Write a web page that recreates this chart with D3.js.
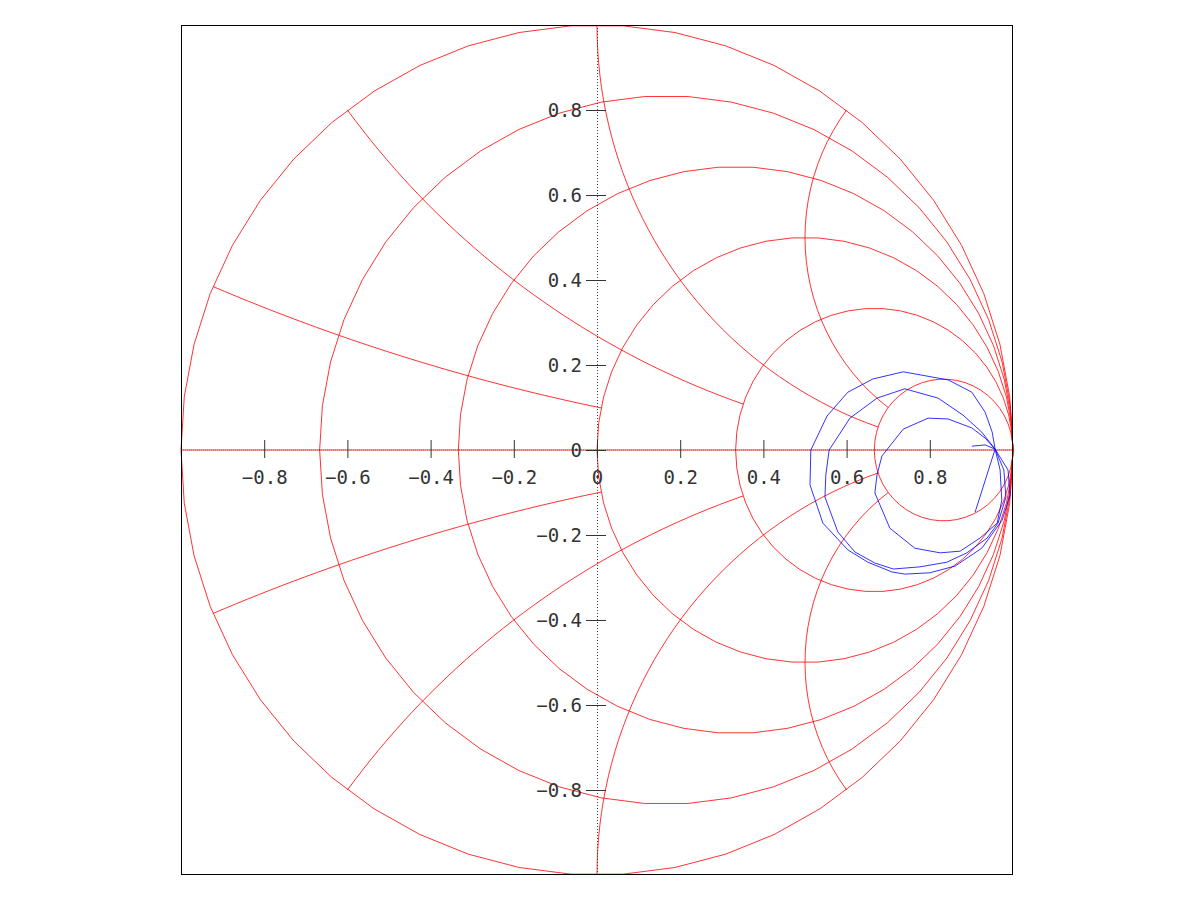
<!DOCTYPE html>
<html>
<head>
<meta charset="utf-8">
<script src="https://cdn.jsdelivr.net/npm/d3@7"></script>
<style>
  html, body { margin: 0; padding: 0; background: #fff; }
  svg { display: block; }
  .tick text { font-family: "DejaVu Sans Mono", monospace; font-size: 19px; fill: #333; }
</style>
</head>
<body>
<svg id="chart" width="1200" height="900"></svg>
<script>
// ---- grid definitions ----
const rCircles = [0, 0.2, 0.5, 1, 2, 5];
const xArcs = [0.2, 0.5, 1, 2];
const xArcStops = [1, 2, 5, 5];

// ---- axis ticks ----
const tickValues = [-0.8, -0.6, -0.4, -0.2, 0, 0.2, 0.4, 0.6, 0.8];
const tickLabels = ["\u22120.8", "\u22120.6", "\u22120.4", "\u22120.2", "0", "0.2", "0.4", "0.6", "0.8"];

// ---- reflection coefficient trace (real / imaginary) ----
const gammaRe = [
  0.901, 0.933, 0.957,
  0.988, 0.993, 0.974, 0.925, 0.861, 0.800, 0.740, 0.709, 0.651, 0.603, 0.543, 0.512, 0.514,
  0.553, 0.603, 0.663, 0.736, 0.844, 0.901, 0.933, 0.950, 0.957,
  0.978, 0.983, 0.964, 0.938, 0.889, 0.841, 0.776, 0.712, 0.668, 0.620, 0.579, 0.548, 0.550,
  0.558, 0.608, 0.673, 0.740, 0.820, 0.880, 0.925, 0.957,
  0.969, 0.973, 0.962, 0.921, 0.873, 0.825, 0.764, 0.704, 0.668, 0.673, 0.685, 0.736, 0.796,
  0.844, 0.901, 0.933, 0.957,
  0.909
];
const gammaIm = [
  0.009, 0.012, 0.002,
  -0.047, -0.106, -0.165, -0.231, -0.273, -0.289, -0.292, -0.287, -0.264, -0.235, -0.172, -0.082, 0.000,
  0.080, 0.136, 0.167, 0.184, 0.165, 0.136, 0.089, 0.042, 0.002,
  -0.047, -0.111, -0.172, -0.207, -0.242, -0.264, -0.275, -0.280, -0.266, -0.240, -0.193, -0.111, -0.059,
  0.000, 0.075, 0.122, 0.144, 0.122, 0.082, 0.042, 0.002,
  -0.047, -0.118, -0.172, -0.207, -0.238, -0.242, -0.231, -0.184, -0.101, -0.059, -0.014, 0.049, 0.075,
  0.073, 0.052, 0.028, 0.002,
  -0.146
];

const svg = d3.select("#chart");
const x = d3.scaleLinear().domain([-1, 1]).range([181, 1013]);
const y = d3.scaleLinear().domain([-1, 1]).range([875, 25]);

const line = d3.line().x(d => x(d[0])).y(d => y(d[1]));
const SEG = 50;

const grid = svg.append("g").attr("fill", "none")
  .attr("stroke", "#ff0000").attr("stroke-width", 1).attr("stroke-opacity", 0.8);

// constant-resistance circles
rCircles.forEach(r => {
  const c = r / (1 + r), R = 1 / (1 + r);
  const pts = d3.range(SEG + 1).map(k => {
    const a = 2 * Math.PI * k / SEG;
    return [c + R * Math.cos(a), R * Math.sin(a)];
  });
  grid.append("path").attr("d", line(pts));
});

// constant-reactance arcs (upper and lower), from the outer circle to a resistance circle
function gamma(re, im) {
  const nr = re - 1, ni = im, dr = re + 1, di = im;
  const den = dr * dr + di * di;
  return [(nr * dr + ni * di) / den, (ni * dr - nr * di) / den];
}
xArcs.forEach((xv, i) => {
  [1, -1].forEach(sgn => {
    const xx = xv * sgn;
    const cx = 1, cy = 1 / xx, R = Math.abs(1 / xx);
    const p0 = gamma(0, xx), p1 = gamma(xArcStops[i], xx);
    const a0 = Math.atan2(p0[1] - cy, p0[0] - cx);
    const a1 = Math.atan2(p1[1] - cy, p1[0] - cx);
    let da = a1 - a0;
    while (da > Math.PI) da -= 2 * Math.PI;
    while (da < -Math.PI) da += 2 * Math.PI;
    const n = Math.max(12, Math.ceil(Math.abs(da) * R / 0.03));
    const pts = d3.range(n + 1).map(k => {
      const a = a0 + da * k / n;
      return [cx + R * Math.cos(a), cy + R * Math.sin(a)];
    });
    grid.append("path").attr("d", line(pts));
  });
});

// real axis (x = 0)
grid.append("path").attr("d", line([[-1, 0], [1, 0]]));

// dotted axis lines
svg.append("line")
  .attr("x1", x(-1)).attr("x2", x(1)).attr("y1", y(0)).attr("y2", y(0))
  .attr("stroke", "#000").attr("stroke-opacity", 0.35).attr("stroke-dasharray", "1,1");
svg.append("line")
  .attr("x1", x(0) + 0.5).attr("x2", x(0) + 0.5).attr("y1", y(1)).attr("y2", y(-1))
  .attr("stroke", "#444").attr("stroke-width", 1).attr("stroke-dasharray", "1,2");

// data trace
const trace = gammaRe.map((re, i) => [re, gammaIm[i]]);
svg.append("path")
  .attr("d", line(trace))
  .attr("fill", "none")
  .attr("stroke", "#0000ff")
  .attr("stroke-opacity", 0.8)
  .attr("stroke-width", 1);

// axes
const xAxis = d3.axisBottom(x).tickValues(tickValues)
  .tickFormat((d, i) => tickLabels[i]).tickSize(18).tickPadding(13);
const gx = svg.append("g").attr("transform", `translate(0,${y(0) - 10})`).call(xAxis);
gx.select(".domain").remove();
gx.selectAll(".tick line").attr("stroke", "#333");

const yAxis = d3.axisLeft(y).tickValues(tickValues)
  .tickFormat((d, i) => tickLabels[i]).tickSize(20).tickPadding(4);
const gy = svg.append("g").attr("transform", `translate(${x(0) + 9},0)`).call(yAxis);
gy.select(".domain").remove();
gy.selectAll(".tick line").attr("stroke", "#333");

// frame
svg.append("rect")
  .attr("x", x(-1) + 0.5).attr("y", y(1) + 0.5)
  .attr("width", x(1) - x(-1) - 1).attr("height", y(-1) - y(1) - 1)
  .attr("fill", "none").attr("stroke", "#000").attr("stroke-width", 1);
</script>
</body>
</html>
